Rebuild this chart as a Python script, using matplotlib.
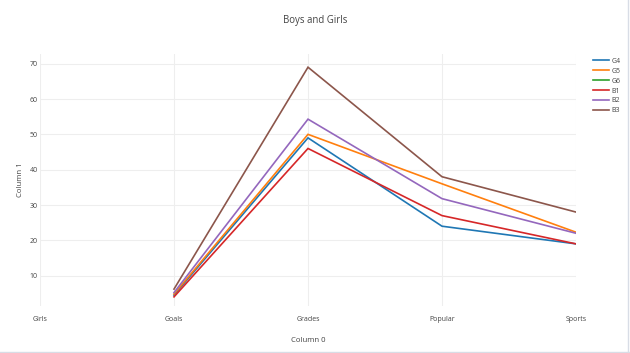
import matplotlib
matplotlib.use("Agg")
import matplotlib.pyplot as plt
import numpy as np

plt.rcParams['font.family'] = ['Open Sans', 'DejaVu Sans']

categories = ["Girls", "Goals", "Grades", "Popular", "Sports"]
series_names = ["G4", "G5", "G6", "B1", "B2", "B3"]
G4 = [np.nan, 4.5, 49, 24, 19]
G5 = [np.nan, 4.8, 50, 36, 22.3]
G6 = [np.nan, np.nan, np.nan, np.nan, np.nan]
B1 = [np.nan, 4, 46, 27, 19]
B2 = [np.nan, 5.2, 54.3, 31.8, 22]
B3 = [np.nan, 6.2, 69, 38, 28]
series_values = [G4, G5, G6, B1, B2, B3]
colors = ["#1f77b4", "#ff7f0e", "#2ca02c", "#d62728", "#9467bd", "#8c564b"]
yticks = [10, 20, 30, 40, 50, 60, 70]

W, H = 630, 353
fig = plt.figure(figsize=(W / 100, H / 100), dpi=100)
left, right, bottom, top = 40, 576, 306, 54
ax = fig.add_axes([left / W, 1 - bottom / H, (right - left) / W, (bottom - top) / H])

x = np.arange(len(categories))
for name, vals, c in zip(series_names, series_values, colors):
    ax.plot(x, vals, color=c, lw=1.2, label=name, solid_joinstyle='miter')

ax.set_xlim(0, 4)
ax.set_ylim(1.415, 72.74)
ax.set_xticks(x)
ax.set_xticklabels(categories)
ax.set_yticks(yticks)
ax.grid(True, color="#eeeeee", lw=0.8)
ax.set_axisbelow(True)
for s in ax.spines.values():
    s.set_visible(False)
ax.tick_params(length=0, labelsize=5.0, colors="#444444", pad=1.5)
ax.tick_params(axis='x', pad=7)
ax.set_xlabel("Column 0", fontsize=5.6, color="#444444", labelpad=10)
ax.set_ylabel("Column 1", fontsize=5.6, color="#444444", labelpad=4)

fig.text(315 / W, 1 - 21 / H, "Boys and Girls", ha="center", va="center",
         fontsize=6.9, color="#444444")

leg = ax.legend(loc="upper left", bbox_to_anchor=((590 - left) / (right - left), (bottom - 55) / (bottom - top)),
                frameon=False, fontsize=5.0, handlelength=2.4, labelspacing=0.42,
                handletextpad=0.3, borderaxespad=0)
for t in leg.get_texts():
    t.set_color("#444444")

fig.add_artist(plt.Line2D([628 / W, 628 / W], [0, 1], transform=fig.transFigure, color="#d8dde6", lw=1))
fig.add_artist(plt.Line2D([0, 1], [1 / H, 1 / H], transform=fig.transFigure, color="#d8dde6", lw=1))

fig.savefig("out.png", dpi=100)
